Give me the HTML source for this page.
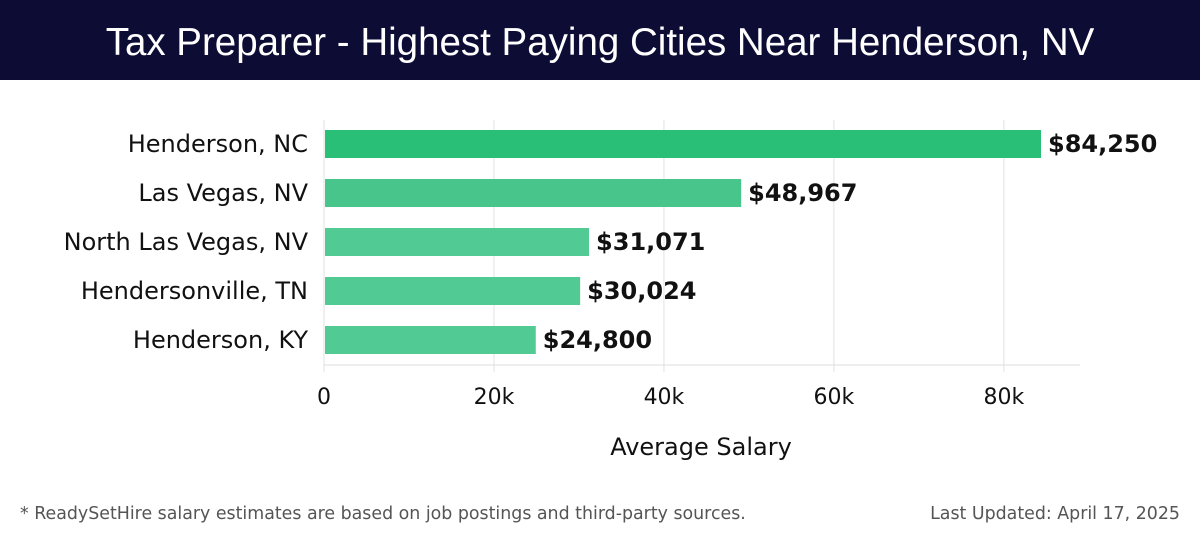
<!DOCTYPE html>
<html><head><meta charset="utf-8"><style>
body{margin:0;width:1200px;height:540px;background:#fff;overflow:hidden;font-family:"DejaVu Sans",sans-serif}
#title{position:absolute;left:0;top:0;width:1200px;height:80px;background:#0c0c35;color:#fff;font-family:"Liberation Sans",sans-serif;font-size:38.5px;text-align:center;line-height:86px}
</style></head><body>
<div id="title">Tax Preparer - Highest Paying Cities Near Henderson, NV</div>
<svg id="chart" width="1200" height="540" style="position:absolute;left:0;top:0"></svg>
<script>
const categories=["Henderson, NC","Las Vegas, NV","North Las Vegas, NV","Hendersonville, TN","Henderson, KY"];
const values=[84250,48967,31071,30024,24800];
const labels=["$84,250","$48,967","$31,071","$30,024","$24,800"];
const ticks=[0,20000,40000,60000,80000];
const tickLabels=["0","20k","40k","60k","80k"];
const colors=["#2abf77","#48c58a","#52ca94","#52ca94","#52ca94"];
const svg=document.getElementById('chart');
const NS='http://www.w3.org/2000/svg';
const x=v=>324+v*(1040-324)/84250;
const yc=i=>144+i*49;
function mk(t,a,txt){const e=document.createElementNS(NS,t);for(const k in a)e.setAttribute(k,a[k]);if(txt!==undefined)e.textContent=txt;svg.appendChild(e);return e;}
ticks.forEach((t,i)=>{
 const g=mk('line',{x1:x(t),x2:x(t),y1:120,y2:372,stroke:'#e2e2e2','stroke-width':1});
 
 
 const l=mk('text',{x:x(t),y:404,'text-anchor':'middle','font-size':22,fill:'#111'},tickLabels[i]);
 
 
});
const ax=mk('line',{x1:324,x2:1080,y1:365,y2:365,stroke:'#ddd','stroke-width':1});


categories.forEach((c,i)=>{
 const b=mk('rect',{x:x(0)+1,y:yc(i)-14,width:x(values[i])-x(0),height:28,fill:colors[i]});
 
 
 const cl=mk('text',{x:308,y:yc(i)+8,'text-anchor':'end','font-size':24,fill:'#111'},c);
 
 
 const vl=mk('text',{x:x(values[i])+8,y:yc(i)+8,'font-size':24,'font-weight':'bold',fill:'#111'},labels[i]);
 
 
});
const xt=mk('text',{x:701,y:455,'text-anchor':'middle','font-size':24,fill:'#111'},'Average Salary');


const fn=mk('text',{x:20,y:519,'font-size':17.4,fill:'#555'},'* ReadySetHire salary estimates are based on job postings and third-party sources.');


const up=mk('text',{x:1180,y:519,'text-anchor':'end','font-size':17.4,fill:'#555'},'Last Updated: April 17, 2025');


</script>
</body></html>
